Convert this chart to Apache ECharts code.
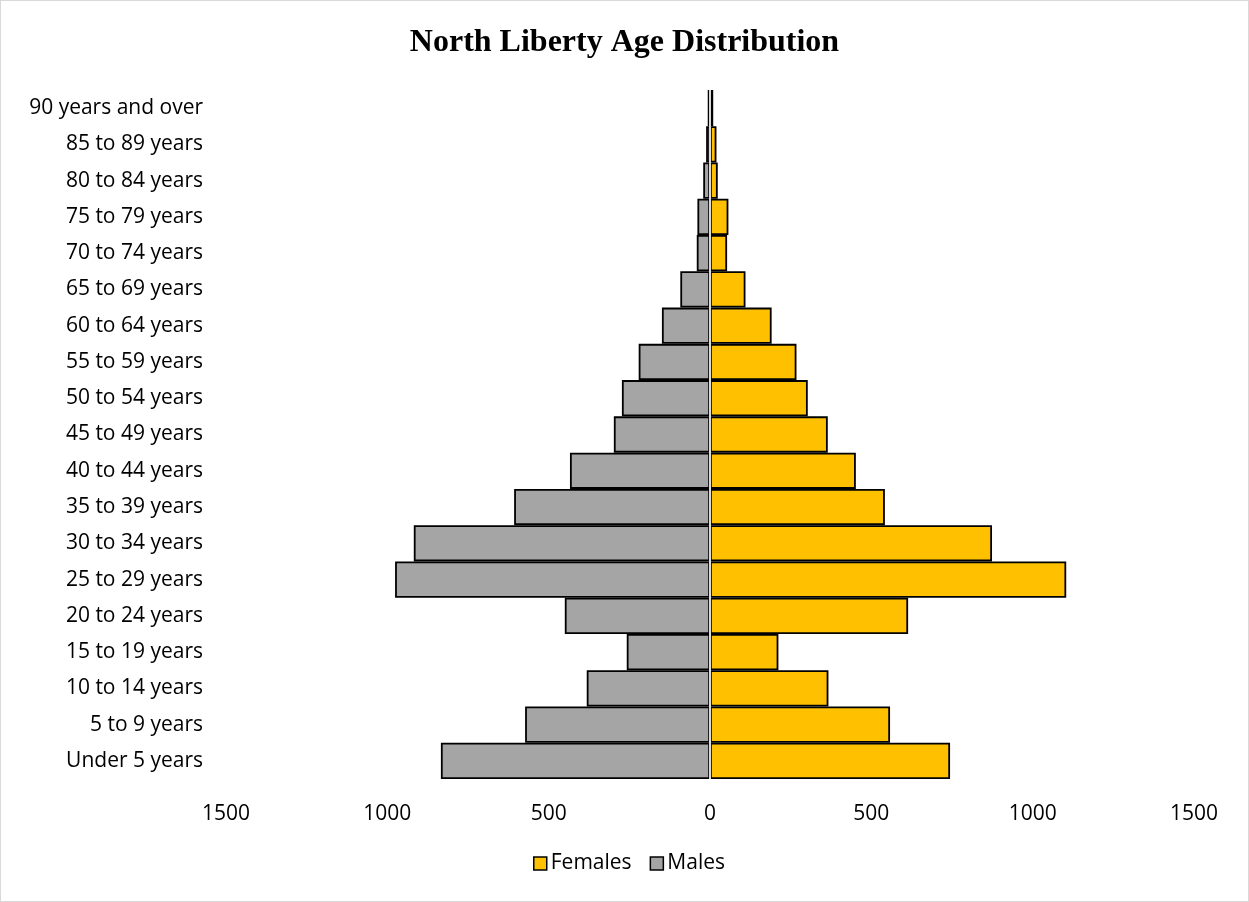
<!DOCTYPE html>
<html><head><meta charset="utf-8">
<script src="https://cdn.jsdelivr.net/npm/echarts@6/dist/echarts.min.js"></script>
<style>html,body{margin:0;padding:0;background:#fff}#c{width:1247px;height:900px;border:1px solid #d9d9d9}</style>
</head><body><div id="c"></div>
<script>
const categories = ["Under 5 years","5 to 9 years","10 to 14 years","15 to 19 years","20 to 24 years","25 to 29 years","30 to 34 years","35 to 39 years","40 to 44 years","45 to 49 years","50 to 54 years","55 to 59 years","60 to 64 years","65 to 69 years","70 to 74 years","75 to 79 years","80 to 84 years","85 to 89 years","90 years and over"];
const females = [744,558,367,212,614,1104,874,542,452,365,303,268,191,110,53,57,24,20,10];
const males = [834,573,382,258,450,976,918,607,434,298,273,221,149,92,41,39,21,12,7];
const xTicks = {min:-1500, max:1500, interval:500};

const chart = echarts.init(document.getElementById('c'));
chart.setOption({
  animation:false,
  title:{text:'North Liberty Age Distribution', left:'center', top:21,
    textStyle:{fontFamily:'Liberation Serif', fontWeight:'bold', fontSize:32, color:'#000'}},
  legend:{bottom:22, left:527, itemWidth:13, itemHeight:13, itemGap:18, icon:'rect',
    textStyle:{fontFamily:'Open Sans', fontSize:21, color:'#000', padding:[0,0,0,-1]},
    data:[{name:'Females', itemStyle:{borderColor:'#000',borderWidth:1.5}},{name:'Males', itemStyle:{borderColor:'#000',borderWidth:1.5}}]},
  grid:{left:225, right:54, top:89, bottom:122, containLabel:false},
  xAxis:{type:'value', min:xTicks.min, max:xTicks.max, interval:xTicks.interval,
    axisLine:{show:false}, axisTick:{show:false}, splitLine:{show:false},
    axisLabel:{margin:25, fontFamily:'Open Sans', fontSize:21, color:'#000', formatter:v=>Math.abs(v)}},
  yAxis:{type:'category', data:categories, axisLine:{show:false, onZero:false}, axisTick:{show:false},
    axisLabel:{margin:23, fontFamily:'Open Sans', fontSize:21, color:'#000'}},
  series:[
    {name:'Females', type:'bar', data:females, barGap:'-100%', barCategoryGap:0,
     itemStyle:{color:'#FFC000', borderColor:'#000', borderWidth:1.8},
     markLine:{silent:true, symbol:'none', z:10, label:{show:false},
       lineStyle:{color:'#d9d9d9', type:'solid', width:2}, data:[{xAxis:0}]}},
    {name:'Males', type:'bar', data:males.map(v=>-v), barCategoryGap:0,
     itemStyle:{color:'#A5A5A5', borderColor:'#000', borderWidth:1.8}}
  ]
});
</script></body></html>
